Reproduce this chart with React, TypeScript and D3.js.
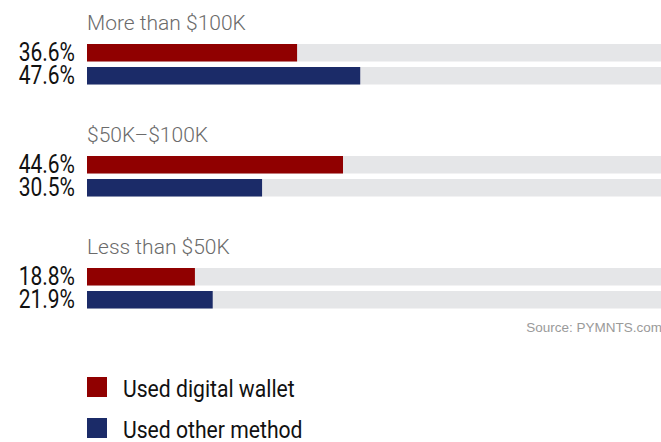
import React from "react";
import * as d3 from "d3";

const groups = ["More than $100K", "$50K–$100K", "Less than $50K"];
const walletValues = [36.6, 44.6, 18.8];
const otherValues = [47.6, 30.5, 21.9];
const seriesNames = ["Used digital wallet", "Used other method"];
const seriesColors = ["#900000", "#1b2b68"];
const sourceText = "Source: PYMNTS.com";

const W = 661;
const H = 442;

export default function App() {
  const x = d3.scaleLinear().domain([0, 100]).range([87, 661]);
  const groupY = d3.scaleBand<number>().domain(d3.range(groups.length)).range([44, 44 + 112 * 3]).paddingInner(0);
  const barH = 17.5;
  const series = [walletValues, otherValues];
  const legendY = d3.scaleBand<number>().domain([0, 1]).range([377, 459]);

  return (
    <svg
      width={W}
      height={H}
      style={{ position: "absolute", left: 0, top: 0, background: "#fff" }}
      fontFamily="Roboto, sans-serif"
    >
      {groups.map((g, i) => {
        const top = groupY(i)!;
        return (
          <g key={g}>
            <text x={87} y={top - 14} fontSize={21} fontWeight={300} fill="#6b6b6b">
              {g}
            </text>
            {series.map((vals, s) => {
              const y = top + s * 23;
              return (
                <g key={s}>
                  <rect x={x(0)} y={y} width={x(100) - x(0)} height={barH} fill="#e5e6e8" />
                  <rect x={x(0)} y={y} width={x(vals[i]) - x(0)} height={barH} fill={seriesColors[s]} />
                  <text
                    transform={`translate(75, ${y + barH - 1}) scale(0.84, 1)`}
                    textAnchor="end"
                    fontSize={25}
                    fill="#111"
                  >
                    {vals[i].toFixed(1)}%
                  </text>
                </g>
              );
            })}
          </g>
        );
      })}
      <text
        x={662}
        y={332}
        textAnchor="end"
        fontSize={13.5}
        fontFamily="'Liberation Sans', Arial, sans-serif"
        fill="#9a9a9a"
      >
        {sourceText}
      </text>
      {seriesNames.map((name, s) => {
        const y = legendY(s)!;
        return (
          <g key={name}>
            <rect x={87} y={y} width={20} height={20} fill={seriesColors[s]} />
            <text
              transform={`translate(123, ${y + 19.5}) scale(0.92, 1)`}
              fontSize={23}
              fill="#111"
            >
              {name}
            </text>
          </g>
        );
      })}
    </svg>
  );
}
